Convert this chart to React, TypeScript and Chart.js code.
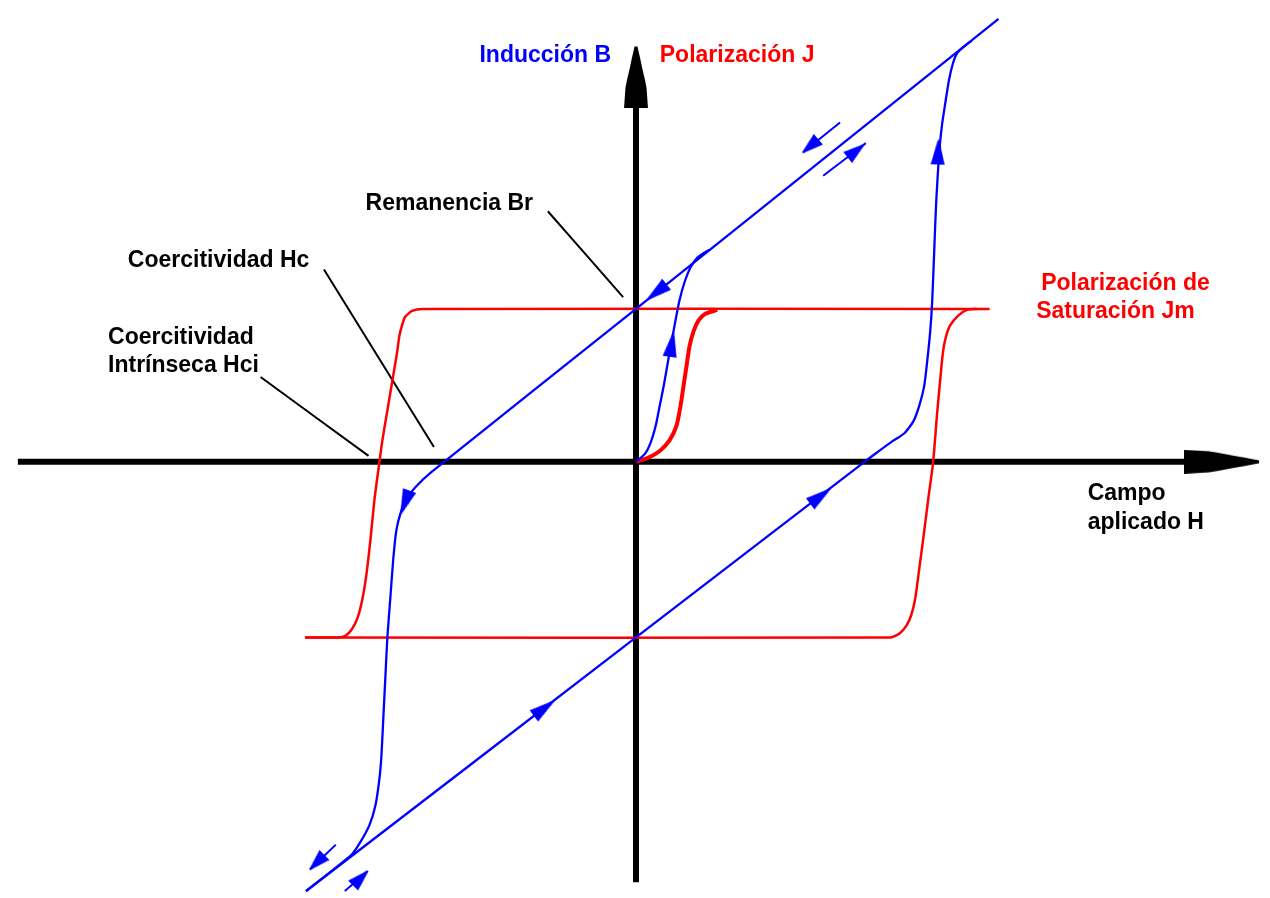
import React, { useEffect, useRef } from "react";
import { Chart, registerables } from "chart.js";

Chart.register(...registerables);

type Pt = [number, number];

// ---- Axes (H horizontal, B / J vertical), arbitrary units ----
const hAxisLine: Pt[] = [[-6.24, 0], [5.54, 0]];
const hAxisTip: Pt = [6.29, 0];
const vAxisLine: Pt[] = [[0, -4.26], [0, 3.6]];
const vAxisTip: Pt = [0, 4.21];

// ---- Polarización J (red loop) ----
const jDescending: Pt[] = [
  [3.57, 1.55], [-2.16, 1.55], [-2.26, 1.53], [-2.33, 1.47], [-2.36, 1.39], [-2.39, 1.27],
  [-2.41, 1.12], [-2.46, 0.82], [-2.51, 0.52], [-2.56, 0.22], [-2.59, 0.0],
  [-2.64, -0.38], [-2.68, -0.78], [-2.72, -1.13], [-2.76, -1.38], [-2.81, -1.58],
  [-2.87, -1.7], [-2.93, -1.76], [-3.0, -1.78], [-3.34, -1.78],
];
const jAscending: Pt[] = [
  [-3.34, -1.78], [2.57, -1.78], [2.66, -1.74], [2.73, -1.66], [2.78, -1.55], [2.82, -1.38],
  [2.86, -1.08], [2.9, -0.78], [2.95, -0.38], [3.0, 0.0], [3.04, 0.49], [3.07, 0.82],
  [3.1, 1.12], [3.13, 1.27], [3.17, 1.38], [3.25, 1.48], [3.34, 1.54], [3.44, 1.55],
];
const jVirgin: Pt[] = [
  [0, 0], [0.12, 0.04], [0.24, 0.11], [0.34, 0.22], [0.41, 0.37], [0.45, 0.57],
  [0.48, 0.77], [0.51, 0.97], [0.54, 1.17], [0.58, 1.32], [0.63, 1.43], [0.7, 1.5], [0.82, 1.54],
];

// ---- Inducción B (blue loop) ----
const bDescending: Pt[] = [
  [3.66, 4.49], [0, 1.55], [-2.06, -0.1], [-2.23, -0.26], [-2.32, -0.38], [-2.38, -0.53],
  [-2.42, -0.7], [-2.45, -0.98], [-2.48, -1.38], [-2.51, -1.78], [-2.53, -2.18],
  [-2.55, -2.58], [-2.57, -2.98], [-2.59, -3.21], [-2.63, -3.48], [-2.69, -3.68],
  [-2.78, -3.85], [-2.87, -3.98], [-3.33, -4.35],
];
const bAscending: Pt[] = [
  [-3.33, -4.35], [0, -1.78], [2.32, 0.01], [2.44, 0.1], [2.59, 0.21], [2.71, 0.29],
  [2.8, 0.41], [2.86, 0.57], [2.91, 0.77], [2.94, 1.02], [2.97, 1.32], [2.99, 1.62],
  [3.01, 2.12], [3.03, 2.62], [3.06, 3.12], [3.09, 3.42], [3.12, 3.62], [3.16, 3.87],
  [3.2, 4.04], [3.24, 4.14], [3.29, 4.19], [3.39, 4.27],
];
const bVirgin: Pt[] = [
  [0, 0], [0.09, 0.08], [0.15, 0.2], [0.2, 0.37], [0.24, 0.57], [0.28, 0.77],
  [0.32, 1.0], [0.36, 1.22], [0.4, 1.44], [0.44, 1.64], [0.49, 1.82], [0.55, 1.97],
  [0.62, 2.07], [0.74, 2.15],
];

// ---- Direction arrows on the curves: position and a point further along the path ----
const curveArrowAt: Pt[] = [[0.21, 1.72], [0.36, 1.19], [-2.33, -0.41], [-0.93, -2.5], [1.86, -0.35], [3.05, 3.14]];
const curveArrowToward: Pt[] = [[0.01, 1.56], [0.4, 1.44], [-2.4, -0.6], [-0.73, -2.35], [2.06, -0.2], [3.06, 3.4]];

// ---- Detached arrows beside the saturation lines ----
const sideArrowShafts: Pt[][] = [
  [[2.06, 3.44], [1.69, 3.14]],
  [[1.89, 2.9], [2.32, 3.23]],
  [[-3.03, -3.88], [-3.29, -4.13]],
  [[-2.94, -4.35], [-2.71, -4.15]],
];
const sideArrowAt: Pt[] = [[1.76, 3.2], [2.22, 3.15], [-3.22, -4.06], [-2.78, -4.22]];
const sideArrowToward: Pt[] = [[1.69, 3.14], [2.32, 3.23], [-3.29, -4.13], [-2.71, -4.15]];

// ---- Leader lines for the annotations ----
const leaderRemanence: Pt[] = [[-0.89, 2.54], [-0.13, 1.67]];
const leaderHc: Pt[] = [[-3.15, 1.95], [-2.04, 0.15]];
const leaderHci: Pt[] = [[-3.79, 0.86], [-2.7, 0.06]];

// ---- Texts ----
const labelTexts = [
  "Inducción B", "Polarización J", "Remanencia Br", "Coercitividad Hc",
  "Coercitividad", "Intrínseca Hci", "Polarización de", "Saturación Jm", "Campo", "aplicado H",
];
const labelAnchors: Pt[] = [
  [-1.58, 4.05], [0.24, 4.05], [-2.73, 2.55], [-5.13, 1.97],
  [-5.33, 1.19], [-5.33, 0.91], [4.09, 1.74], [4.04, 1.46], [4.56, -0.39], [4.56, -0.68],
];
const BLUE = "#0000ff";
const RED = "#ff0000";
const BLACK = "#000000";
const labelColors = [BLUE, RED, BLACK, BLACK, BLACK, BLACK, RED, RED, BLACK, BLACK];

const toXY = (pts: Pt[]) => pts.map(([x, y]) => ({ x, y }));

function makeArrowHead(len: number, wid: number, color: string, tipAtCenter: boolean, profile: number[][]) {
  const c = document.createElement("canvas");
  c.width = wid;
  c.height = tipAtCenter ? len * 2 : len;
  const g = c.getContext("2d")!;
  const top = tipAtCenter ? len : 0;
  const cx = wid / 2;
  g.fillStyle = color;
  g.beginPath();
  g.moveTo(cx, top);
  for (const [t, w] of profile) g.lineTo(cx + (w * wid) / 2, top + t * len);
  for (let i = profile.length - 1; i >= 0; i--) {
    const [t, w] = profile[i];
    g.lineTo(cx - (w * wid) / 2, top + t * len);
  }
  g.closePath();
  g.fill();
  return c;
}

const labelPlugin = {
  id: "hysteresisLabels",
  afterDatasetsDraw(chart: any) {
    const { ctx } = chart;
    const xs = chart.scales.x;
    const ys = chart.scales.y;
    ctx.save();
    ctx.font = "bold 23px 'Liberation Sans', Arial, sans-serif";
    ctx.textAlign = "left";
    ctx.textBaseline = "alphabetic";
    labelTexts.forEach((t, i) => {
      ctx.fillStyle = labelColors[i];
      ctx.fillText(t, xs.getPixelForValue(labelAnchors[i][0]), ys.getPixelForValue(labelAnchors[i][1]));
    });
    ctx.restore();
  },
};

function rotationFor(at: Pt[], toward: Pt[]) {
  return (c: any) => {
    const xs = c.chart.scales.x;
    const ys = c.chart.scales.y;
    const i = c.dataIndex;
    if (!xs || !ys || i === undefined || !at[i]) return 0;
    const dx = xs.getPixelForValue(toward[i][0]) - xs.getPixelForValue(at[i][0]);
    const dy = ys.getPixelForValue(toward[i][1]) - ys.getPixelForValue(at[i][1]);
    return (Math.atan2(dx, -dy) * 180) / Math.PI;
  };
}

export default function App() {
  const ref = useRef<HTMLCanvasElement>(null);

  useEffect(() => {
    document.body.style.margin = "0";
    if (!ref.current) return;

    const axisProfile = [[0.0, 0.12], [0.2, 0.36], [0.35, 0.52], [0.55, 0.76], [0.67, 0.88], [1, 1]];
    const smallProfile = [[0.02, 0.1], [1, 1]];
    const vHead = makeArrowHead(62, 24, BLACK, true, axisProfile);
    const hHead = makeArrowHead(75, 24, BLACK, true, axisProfile);
    const curveHead = makeArrowHead(25, 14, BLUE, false, smallProfile);
    const sideHead = makeArrowHead(21, 14, BLUE, false, smallProfile);

    const line = (pts: Pt[], color: string, width: number, order: number) => ({
      data: toXY(pts),
      showLine: true,
      borderColor: color,
      backgroundColor: color,
      borderWidth: width,
      pointRadius: 0,
      tension: 0.2,
      fill: false,
      order,
      borderCapStyle: "butt",
      borderJoinStyle: "round",
    });

    const datasets: any[] = [
      // arrowheads (on top)
      {
        data: toXY(curveArrowAt),
        showLine: false,
        pointStyle: curveHead,
        pointRadius: 5,
        pointRotation: rotationFor(curveArrowAt, curveArrowToward),
        order: 0,
      },
      {
        data: toXY(sideArrowAt),
        showLine: false,
        pointStyle: sideHead,
        pointRadius: 5,
        pointRotation: rotationFor(sideArrowAt, sideArrowToward),
        order: 0,
      },
      ...sideArrowShafts.map((s) => line(s, BLUE, 2, 1)),
      line(bDescending, BLUE, 2.3, 2),
      line(bAscending, BLUE, 2.3, 2),
      line(bVirgin, BLUE, 2.3, 2),
      line(jVirgin, RED, 4, 3),
      line(jDescending, RED, 2.5, 4),
      line(jAscending, RED, 2.5, 4),
      line(leaderRemanence, BLACK, 2, 5),
      line(leaderHc, BLACK, 2, 5),
      line(leaderHci, BLACK, 2, 5),
      line(hAxisLine, BLACK, 6, 10),
      line(vAxisLine, BLACK, 6, 10),
      {
        data: toXY([vAxisTip]),
        showLine: false,
        pointStyle: vHead,
        pointRadius: 5,
        pointRotation: 0,
        order: 9,
      },
      {
        data: toXY([hAxisTip]),
        showLine: false,
        pointStyle: hHead,
        pointRadius: 5,
        pointRotation: 90,
        order: 9,
      },
    ];

    const chart = new Chart(ref.current, {
      type: "scatter",
      data: { datasets },
      options: {
        animation: false,
        responsive: false,
        devicePixelRatio: 1,
        events: [],
        layout: { padding: 0 },
        scales: {
          x: { type: "linear", display: false, min: -6.36, max: 6.34 },
          y: { type: "linear", display: false, min: -4.36, max: 4.62 },
        },
        plugins: {
          legend: { display: false },
          tooltip: { enabled: false },
          title: { display: false },
        },
      },
      plugins: [labelPlugin],
    } as any);

    return () => chart.destroy();
  }, []);

  return (
    <div style={{ position: "absolute", left: 0, top: 0, width: 1270, height: 898, background: "#ffffff" }}>
      <canvas ref={ref} width={1270} height={898} style={{ display: "block" }} />
    </div>
  );
}
